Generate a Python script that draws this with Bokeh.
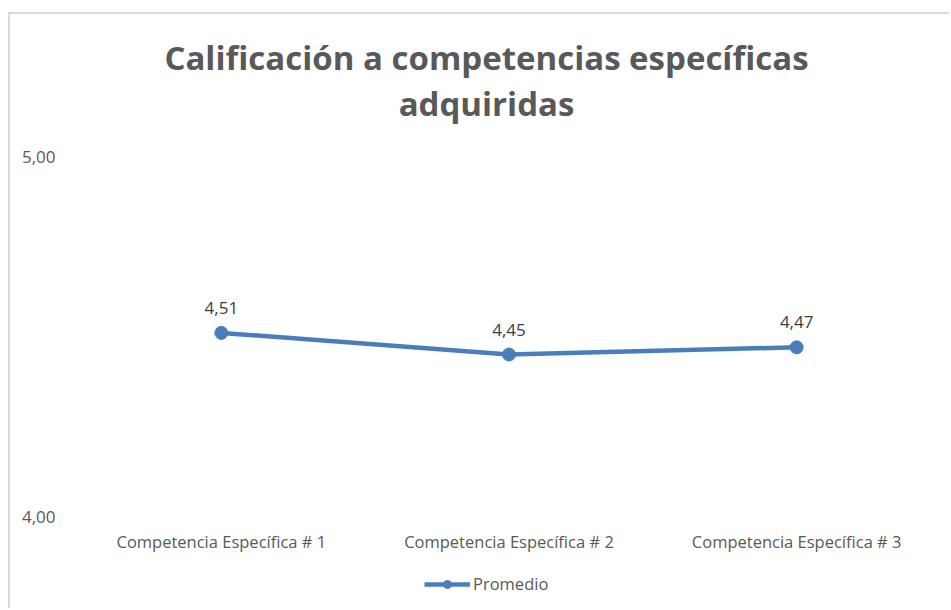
from bokeh.plotting import figure
from bokeh.models import (FactorRange, Range1d, FixedTicker, Legend, LegendItem,
                          ColumnDataSource, LabelSet, Label)
from bokeh.core.properties import value
from bokeh.embed import file_html
from bokeh.resources import INLINE

categories = ["Competencia Específica # 1", "Competencia Específica # 2", "Competencia Específica # 3"]
promedio = [4.51, 4.45, 4.47]
value_labels = ["4,51", "4,45", "4,47"]
y_ticks = [4, 5]
y_tick_labels = ["4,00", "5,00"]
y_min, y_max = 4.0, 5.0
title_lines = ["Calificación a competencias específicas", "adquiridas"]

FONT = "Open Sans"
TEXT = "#595959"
BLUE = "#4a7ebb"

# the frame extends above 5,00 and below 4,00 so title, category labels and legend sit inside it
PX_PER_UNIT = 360.0
EXTRA_ABOVE = 142  # px above the 5,00 line
EXTRA_BELOW = 94   # px below the 4,00 line
CAT_PX = 287.67    # px per category

def px_up(px):
    return y_max + px / PX_PER_UNIT

p = figure(width=941, height=596, x_range=FactorRange(*categories, range_padding=0),
           y_range=Range1d(y_min - EXTRA_BELOW / PX_PER_UNIT, px_up(EXTRA_ABOVE)),
           output_backend="svg", toolbar_location=None,
           min_border_left=67, min_border_right=11, min_border_top=0, min_border_bottom=0,
           margin=(12, 0, 0, 8),
           styles={"border-top": "2px solid #d9d9d9", "border-left": "2px solid #d9d9d9"})
p.outline_line_color = None
p.grid.visible = False
p.background_fill_color = "white"
p.border_fill_color = "white"

title_x = 409 / CAT_PX  # centre of the title, in category units from the frame's left edge
for line, up_px in zip(title_lines, [99, 53]):
    p.add_layout(Label(x=title_x, y=px_up(up_px), text=line, text_align="center",
                       text_baseline="middle", text_font=FONT, text_font_size="33px",
                       text_font_style="bold", text_color=TEXT))

src = ColumnDataSource(dict(x=categories, y=promedio, lab=value_labels))
ln = p.line("x", "y", source=src, line_color=BLUE, line_width=4.5)
sc = p.scatter("x", "y", source=src, size=13, fill_color=BLUE, line_color=BLUE)

labels = LabelSet(x="x", y="y", text="lab", source=src, text_align="center",
                  text_baseline="bottom", y_offset=19, text_font=value(FONT),
                  text_font_size="17px", text_color="#404040")
p.add_layout(labels)

cat_src = ColumnDataSource(dict(x=categories, lab=categories))
cat_labels = LabelSet(x="x", y=y_min, text="lab", source=cat_src, text_align="center",
                      text_baseline="middle", y_offset=-25, text_font=value(FONT),
                      text_font_size="16.5px", text_color=TEXT)
p.add_layout(cat_labels)

p.xaxis.visible = False
p.yaxis.ticker = FixedTicker(ticks=y_ticks)
p.yaxis.major_label_overrides = {t: l for t, l in zip(y_ticks, y_tick_labels)}
p.yaxis.axis_line_color = None
p.yaxis.major_tick_line_color = None
p.yaxis.minor_tick_line_color = None
p.yaxis.major_label_text_font = FONT
p.yaxis.major_label_text_font_size = "17px"
p.yaxis.major_label_text_color = TEXT
p.yaxis.major_label_standoff = 16

legend = Legend(items=[LegendItem(label="Promedio", renderers=[ln, sc])],
                orientation="horizontal", location=(347, 15), border_line_color=None,
                background_fill_alpha=0,
                label_text_font=FONT, label_text_font_size="16.5px", label_text_color=TEXT,
                glyph_width=46, glyph_height=20, label_standoff=3, padding=0, margin=0)
p.add_layout(legend)

open("out.html", "w").write(file_html(p, INLINE))
